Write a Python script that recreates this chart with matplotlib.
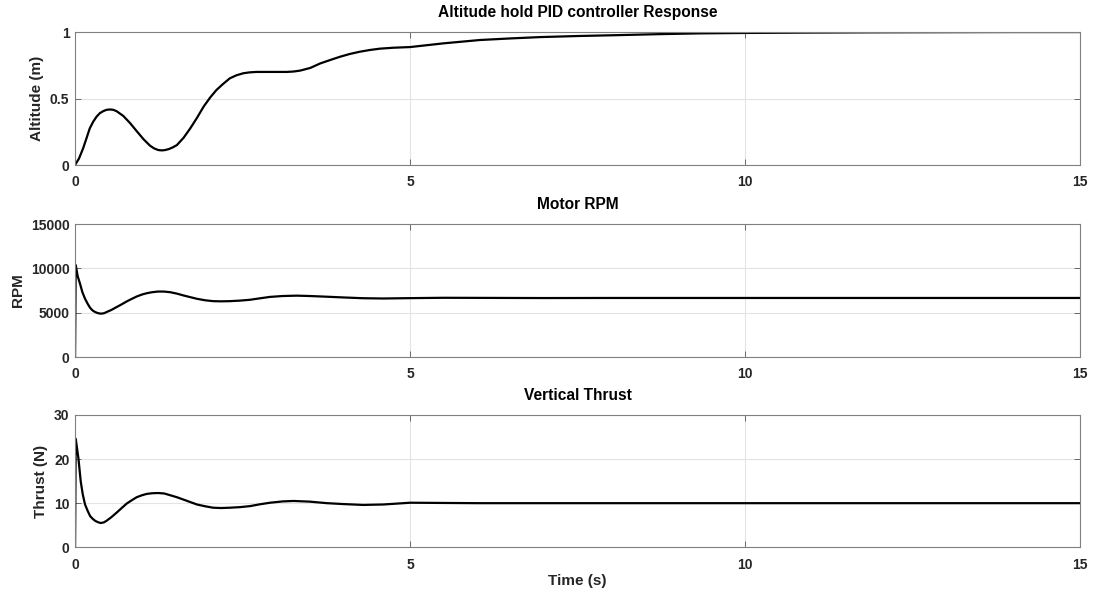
import matplotlib
matplotlib.use("Agg")
import matplotlib.pyplot as plt

# Altitude response (m)
alt_time = [0, 0.06, 0.12, 0.17, 0.22, 0.27, 0.32, 0.37, 0.42, 0.47, 0.52, 0.57,
            0.62, 0.72, 0.82, 0.92, 1.02, 1.12, 1.18, 1.24, 1.29, 1.34, 1.40, 1.46,
            1.52, 1.62, 1.72, 1.82, 1.92, 2.02, 2.11, 2.21, 2.31, 2.41, 2.51, 2.61,
            2.71, 2.86, 3.01, 3.16, 3.26, 3.36, 3.51, 3.66, 3.81, 3.96, 4.10, 4.25,
            4.40, 4.55, 4.75, 5.0, 5.5, 6.04, 6.5, 6.94, 7.5, 8.13, 8.7, 9.33,
            10, 11, 12, 13, 14, 15]
altitude = [0, 0.05, 0.125, 0.20, 0.276, 0.325, 0.363, 0.39, 0.405, 0.415, 0.418, 0.415,
            0.405, 0.369, 0.316, 0.255, 0.195, 0.145, 0.125, 0.113, 0.11, 0.112, 0.12, 0.133,
            0.15, 0.205, 0.276, 0.355, 0.44, 0.51, 0.564, 0.61, 0.652, 0.675, 0.69, 0.697,
            0.70, 0.70, 0.70, 0.70, 0.703, 0.71, 0.73, 0.764, 0.79, 0.815, 0.835, 0.852,
            0.865, 0.875, 0.882, 0.887, 0.915, 0.94, 0.952, 0.962, 0.97, 0.977, 0.984, 0.99,
            0.993, 0.996, 0.998, 0.999, 1.0, 1.0]

# Motor speed (RPM)
rpm_time = [0, 0.01, 0.04, 0.075, 0.11, 0.149, 0.19, 0.224, 0.26, 0.30, 0.34, 0.383,
            0.43, 0.47, 0.54, 0.62, 0.70, 0.77, 0.85, 0.92, 1.0, 1.07, 1.15, 1.24,
            1.33, 1.42, 1.52, 1.62, 1.72, 1.82, 1.94, 2.06, 2.18, 2.31, 2.46, 2.61,
            2.76, 2.91, 3.1, 3.31, 3.5, 3.76, 4.0, 4.3, 4.6, 5.0, 5.5, 6, 7, 8,
            10, 12, 15]
rpm = [0, 10370, 9100, 8245, 7300, 6570, 5980, 5560, 5260, 5070, 4950, 4890,
       4930, 5070, 5300, 5630, 5960, 6265, 6570, 6825, 7050, 7195, 7310, 7385,
       7380, 7310, 7150, 6940, 6750, 6565, 6400, 6300, 6280, 6300, 6360, 6455,
       6620, 6780, 6880, 6920, 6880, 6800, 6720, 6630, 6600, 6640, 6680, 6670, 6650, 6660,
       6660, 6660, 6660]

# Vertical thrust (N)
thrust_time = [0, 0.01, 0.05, 0.085, 0.115, 0.149, 0.19, 0.224, 0.26, 0.30, 0.34, 0.383,
               0.43, 0.47, 0.54, 0.62, 0.70, 0.77, 0.85, 0.92, 1.0, 1.07, 1.15, 1.24,
               1.33, 1.42, 1.52, 1.62, 1.72, 1.82, 1.94, 2.06, 2.18, 2.31, 2.46, 2.61,
               2.76, 2.91, 3.1, 3.26, 3.5, 3.76, 4.0, 4.3, 4.6, 5.0, 5.5, 6, 8, 10,
               12, 15]
thrust = [0, 24.6, 20.2, 14.9, 12.0, 9.7, 8.2, 7.1, 6.5, 6.0, 5.7, 5.5,
          5.65, 6.0, 6.8, 7.85, 8.95, 9.9, 10.7, 11.35, 11.8, 12.1, 12.25, 12.3,
          12.2, 11.8, 11.35, 10.8, 10.25, 9.7, 9.3, 8.97, 8.9, 8.97, 9.1, 9.33,
          9.75, 10.1, 10.4, 10.5, 10.35, 10.0, 9.8, 9.6, 9.7, 10.1, 10.05, 10.0, 10.0, 10.0,
          10.0, 10.0]

x_ticks = [0, 5, 10, 15]

plt.rcParams['font.family'] = ['Liberation Sans', 'DejaVu Sans']
plt.rcParams['font.weight'] = 'bold'

fig = plt.figure(figsize=(10.94, 5.90), dpi=100)

panels = [
    dict(rect=[0.0686, 0.7203, 0.9187, 0.2254], t=alt_time, y=altitude,
         ylim=(0, 1), yticks=[0, 0.5, 1], yticklabels=['0', '0.5', '1'],
         ylabel='Altitude (m)', title='Altitude hold PID controller Response'),
    dict(rect=[0.0686, 0.3949, 0.9187, 0.2254], t=rpm_time, y=rpm,
         ylim=(0, 15000), yticks=[0, 5000, 10000, 15000],
         yticklabels=['0', '5000', '10000', '15000'],
         ylabel='RPM', title='Motor RPM'),
    dict(rect=[0.0686, 0.0724, 0.9187, 0.2243], t=thrust_time, y=thrust,
         ylim=(0, 30), yticks=[0, 10, 20, 30], yticklabels=['0', '10', '20', '30'],
         ylabel='Thrust (N)', title='Vertical Thrust'),
]

label_color = '#262626'
for i, p in enumerate(panels):
    ax = fig.add_axes(p['rect'])
    ax.plot(p['t'], p['y'], color='black', linewidth=1.6, solid_joinstyle='round',
            solid_capstyle='round')
    ax.set_xlim(0, 15)
    ax.set_ylim(*p['ylim'])
    ax.set_xticks(x_ticks)
    ax.set_xticklabels([str(v) for v in x_ticks])
    ax.set_yticks(p['yticks'])
    ax.set_yticklabels(p['yticklabels'])
    ax.grid(True, color='#e3e3e3', linewidth=0.8)
    ax.set_axisbelow(True)
    for s in ax.spines.values():
        s.set_color('#808080')
        s.set_linewidth(0.8)
    ax.tick_params(direction='in', top=True, right=True, length=4,
                   width=0.6, color='#555555', labelsize=10,
                   labelcolor=label_color)
    ax.tick_params(axis='x', pad=7.5)
    ax.tick_params(axis='y', pad=4)
    for lbl in ax.get_xticklabels() + ax.get_yticklabels():
        lbl.set_fontweight('bold')
    ax.set_ylabel(p['ylabel'], fontsize=11, fontweight='bold', color=label_color,
                  labelpad=4)
    ax.set_title(p['title'], fontsize=11.2, fontweight='bold', color='black', pad=11)
    if i == 2:
        ax.set_xlabel('Time (s)', fontsize=11, fontweight='bold', color=label_color,
                      labelpad=1.5)

fig.savefig('out.png', dpi=100, facecolor='white')
